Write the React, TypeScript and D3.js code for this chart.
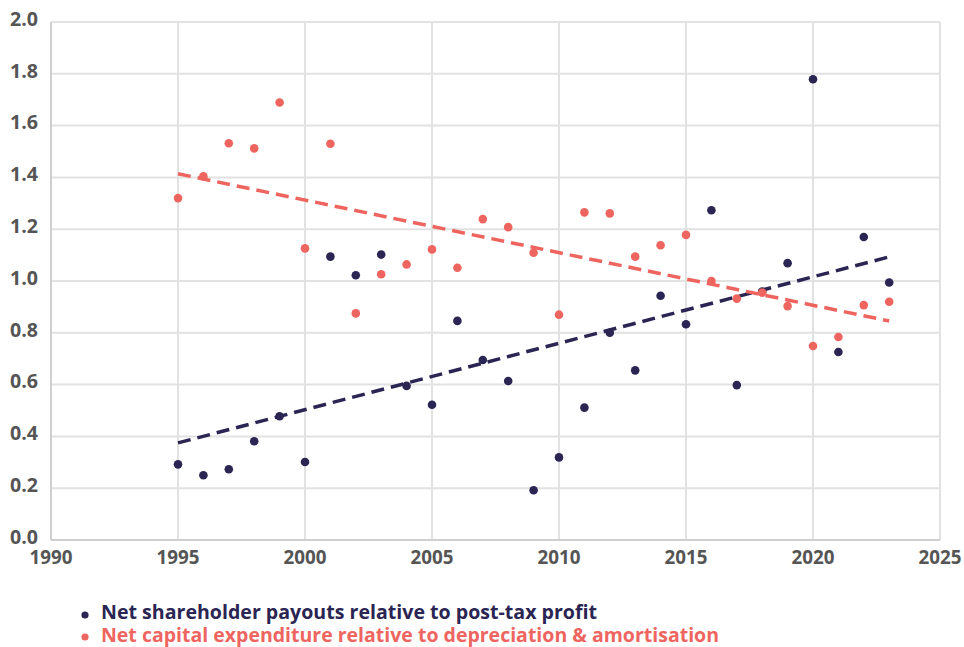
import React from "react";
import * as d3 from "d3";

// chart data
const years = d3.range(1995, 2024);
const payouts = [
  0.292, 0.25, 0.273, 0.381, 0.478, 0.301, 1.094, 1.022, 1.102, 0.595,
  0.522, 0.846, 0.695, 0.614, 0.192, 0.319, 0.511, 0.8, 0.655, 0.943,
  0.833, 1.273, 0.598, 0.959, 1.069, 1.779, 0.726, 1.17, 0.994,
];
const capex = [
  1.32, 1.404, 1.532, 1.512, 1.689, 1.126, 1.53, 0.875, 1.026, 1.064,
  1.122, 1.051, 1.239, 1.208, 1.109, 0.87, 1.265, 1.261, 1.094, 1.138,
  1.178, 1.0, 0.932, 0.955, 0.903, 0.749, 0.784, 0.907, 0.92,
];
const xTicks = [1990, 1995, 2000, 2005, 2010, 2015, 2020, 2025];
const yTicks = [0, 0.2, 0.4, 0.6, 0.8, 1.0, 1.2, 1.4, 1.6, 1.8, 2.0];
const labels = [
  "Net shareholder payouts relative to post-tax profit",
  "Net capital expenditure relative to depreciation & amortisation",
];

const NAVY = "#2a2552";
const CORAL = "#ee6560";

// least squares fit, used for the dashed trend lines
function fit(xs: number[], ys: number[]) {
  const mx = d3.mean(xs)!;
  const my = d3.mean(ys)!;
  let num = 0, den = 0;
  xs.forEach((x, i) => {
    num += (x - mx) * (ys[i] - my);
    den += (x - mx) * (x - mx);
  });
  const b = num / den;
  return (x: number) => my + b * (x - mx);
}

export default function App() {
  const width = 964, height = 647;
  const left = 51, right = 940, top = 22, bottom = 540;

  const x = d3.scaleLinear().domain([1990, 2025]).range([left, right]);
  const y = d3.scaleLinear().domain([0, 2]).range([bottom, top]);

  const series = [
    { values: payouts, color: NAVY },
    { values: capex, color: CORAL },
  ];

  const font = "'Open Sans', Roboto, sans-serif";

  return (
    <svg width={width} height={height} style={{ position: "absolute", left: 0, top: 0, background: "#fff" }}>
      {/* grid */}
      {yTicks.map((t) => (
        <line key={"gy" + t} x1={left} x2={right} y1={y(t)} y2={y(t)} stroke="#e2e2e2" strokeWidth={2} />
      ))}
      {xTicks.map((t) => (
        <line key={"gx" + t} x1={x(t)} x2={x(t)} y1={top} y2={bottom} stroke="#e2e2e2" strokeWidth={2} />
      ))}
      <line x1={left} x2={right} y1={bottom} y2={bottom} stroke="#cfcfcf" strokeWidth={2} />
      <line x1={left} x2={left} y1={top} y2={bottom} stroke="#cfcfcf" strokeWidth={2} />

      {/* tick labels */}
      {yTicks.map((t) => (
        <text key={"ly" + t} x={38} y={y(t) - 3} dy="0.36em" textAnchor="end"
          fontFamily={font} fontWeight={700} fontSize={19} fill="#555"
          textLength={28} lengthAdjust="spacingAndGlyphs">
          {d3.format(".1f")(t)}
        </text>
      ))}
      {xTicks.map((t) => (
        <text key={"lx" + t} x={x(t)} y={557} dy="0.36em" textAnchor="middle"
          fontFamily={font} fontWeight={700} fontSize={19} fill="#555"
          textLength={43} lengthAdjust="spacingAndGlyphs">
          {t}
        </text>
      ))}

      {/* trend lines */}
      {series.map((s, i) => {
        const f = fit(years, s.values);
        const ends = [years[0], years[years.length - 1]];
        const path = d3.line<number>().x((d) => x(d)).y((d) => y(f(d)))(ends);
        return (
          <path key={"t" + i} d={path!} fill="none" stroke={s.color}
            strokeWidth={3.5} strokeDasharray="13 7" />
        );
      })}

      {/* points */}
      {series.map((s, i) => (
        <g key={"s" + i}>
          {s.values.map((v, j) => (
            <circle key={j} cx={x(years[j])} cy={y(v)} r={4.3} fill={s.color} />
          ))}
        </g>
      ))}

      {/* legend */}
      {labels.map((l, i) => (
        <g key={"lg" + i} transform={`translate(0, ${612 + i * 23.5})`}>
          <circle cx={85} cy={i === 0 ? 3 : 1.5} r={3.6} fill={series[i].color} />
          <text x={101} y={0} dy="0.36em" fontFamily={font} fontWeight={700}
            fontSize={19} fill={series[i].color}
            textLength={i === 0 ? 496 : 618} lengthAdjust="spacingAndGlyphs">
            {l}
          </text>
        </g>
      ))}
    </svg>
  );
}
